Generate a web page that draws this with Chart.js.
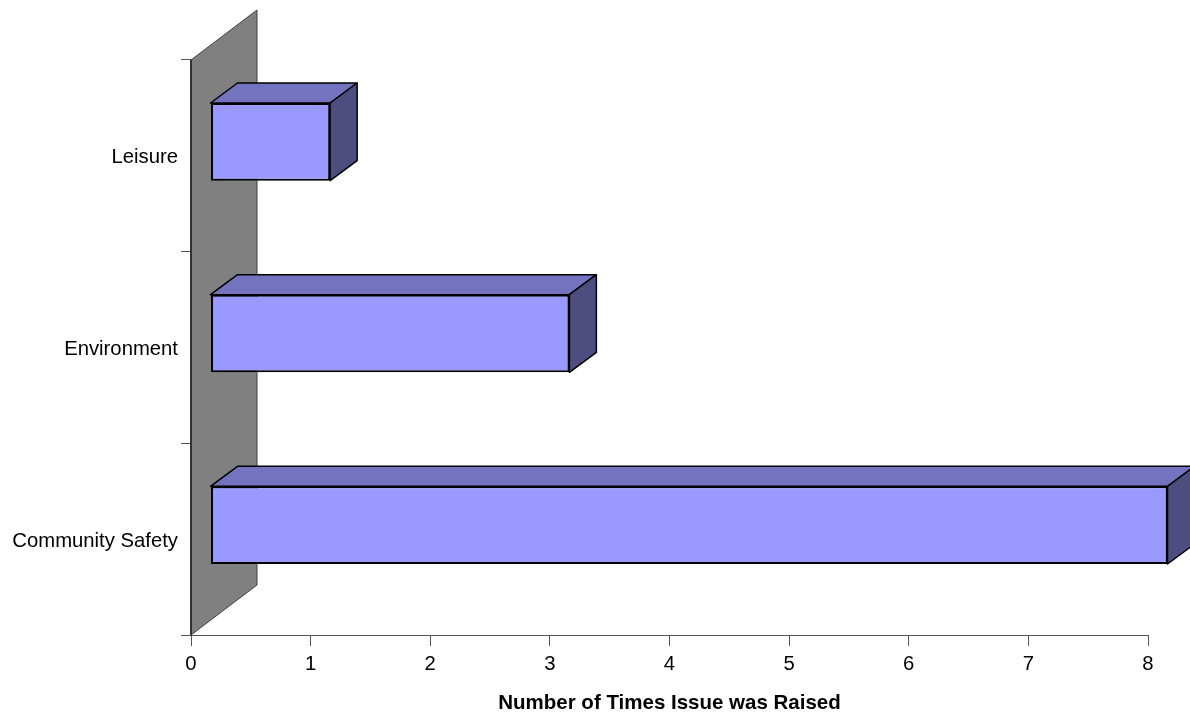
<!DOCTYPE html>
<html>
<head>
<meta charset="utf-8">
<title>Number of Times Issue was Raised</title>
<script src="https://cdn.jsdelivr.net/npm/chart.js@4"></script>
<style>
  html, body { margin: 0; padding: 0; background: #fff; }
  #wrap { width: 1190px; height: 712px; }
</style>
</head>
<body>
<div id="wrap"><canvas id="issueChart" width="1190" height="712"></canvas></div>
<script>
const categories = ['Leisure', 'Environment', 'Community Safety'];
const timesRaised = [1, 3, 8];
const xTickMax = 8;
const xTitle = 'Number of Times Issue was Raised';

// fake 3d: how far the bars and the back wall are pushed
const barShift = { x: 19.5, y: -14 };
const barDepth = { x: 27, y: -20 };
const wallDepth = { x: 66, y: -50 };

const fontName = '"Liberation Sans", Arial, sans-serif';

function fillFace(ctx, pts, color) {
  ctx.beginPath();
  pts.forEach((p, i) => i ? ctx.lineTo(p[0], p[1]) : ctx.moveTo(p[0], p[1]));
  ctx.closePath();
  ctx.fillStyle = color;
  ctx.fill();
  ctx.stroke();
}

const fake3d = {
  id: 'fake3d',
  beforeDatasetsDraw(chart) {
    const { ctx, chartArea: a } = chart;
    ctx.save();
    ctx.strokeStyle = '#404040';
    ctx.lineWidth = 1;
    fillFace(ctx, [
      [a.left, a.top],
      [a.left + wallDepth.x, a.top + wallDepth.y],
      [a.left + wallDepth.x, a.bottom + wallDepth.y],
      [a.left, a.bottom]
    ], '#808080');
    ctx.beginPath();
    ctx.moveTo(a.left, a.top);
    ctx.lineTo(a.left, a.bottom);
    ctx.lineWidth = 2;
    ctx.strokeStyle = '#333333';
    ctx.stroke();
    ctx.restore();
  },
  // the bars are drawn by chart.js, just moved onto the 3d floor
  beforeDatasetDraw(chart, args) {
    const ctx = chart.ctx;
    ctx.save();
    ctx.translate(barShift.x, barShift.y);
    ctx.strokeStyle = '#000000';
    ctx.lineWidth = 1.5;
    ctx.lineJoin = 'round';
    args.meta.data.forEach(bar => {
      const p = bar.getProps(['x', 'y', 'height'], true);
      const top = p.y - p.height / 2;
      const bottom = p.y + p.height / 2;
      const left = chart.scales.x.getPixelForValue(0);
      fillFace(ctx, [
        [left, top],
        [left + barDepth.x, top + barDepth.y],
        [p.x + barDepth.x, top + barDepth.y],
        [p.x, top]
      ], '#7373bf');
      fillFace(ctx, [
        [p.x, top],
        [p.x + barDepth.x, top + barDepth.y],
        [p.x + barDepth.x, bottom + barDepth.y],
        [p.x, bottom]
      ], '#4d4d80');
    });
  },
  afterDatasetDraw(chart) {
    chart.ctx.restore();
  }
};

new Chart(document.getElementById('issueChart'), {
  type: 'bar',
  data: {
    labels: categories,
    datasets: [{
      data: timesRaised,
      backgroundColor: '#9999ff',
      borderColor: '#000000',
      borderWidth: 2,
      borderSkipped: false,
      barPercentage: 0.405,
      categoryPercentage: 1,
      clip: false
    }]
  },
  plugins: [fake3d],
  options: {
    indexAxis: 'y',
    responsive: false,
    animation: false,
    layout: { padding: { top: 60, right: 42, left: 0, bottom: 0 } },
    plugins: {
      legend: { display: false },
      tooltip: { enabled: false }
    },
    scales: {
      x: {
        min: 0,
        max: xTickMax,
        afterFit: s => { s.height = 77; },
        grid: { drawOnChartArea: false, color: '#555555', tickLength: 11 },
        border: { color: '#555555' },
        ticks: {
          stepSize: 1,
          color: '#000000',
          padding: 6,
          maxRotation: 0,
          font: { family: fontName, size: 20.3 }
        },
        title: {
          display: true,
          text: xTitle,
          color: '#000000',
          padding: { top: 0, bottom: -4 },
          font: { family: fontName, size: 20.5, weight: 'bold' }
        }
      },
      y: {
        afterFit: s => { s.width = 191; },
        grid: { drawOnChartArea: false, color: '#555555', tickLength: 10 },
        border: { color: '#333333' },
        ticks: {
          color: '#000000',
          padding: 3,
          labelOffset: 2,
          font: { family: fontName, size: 20.3 }
        }
      }
    }
  }
});
</script>
</body>
</html>
